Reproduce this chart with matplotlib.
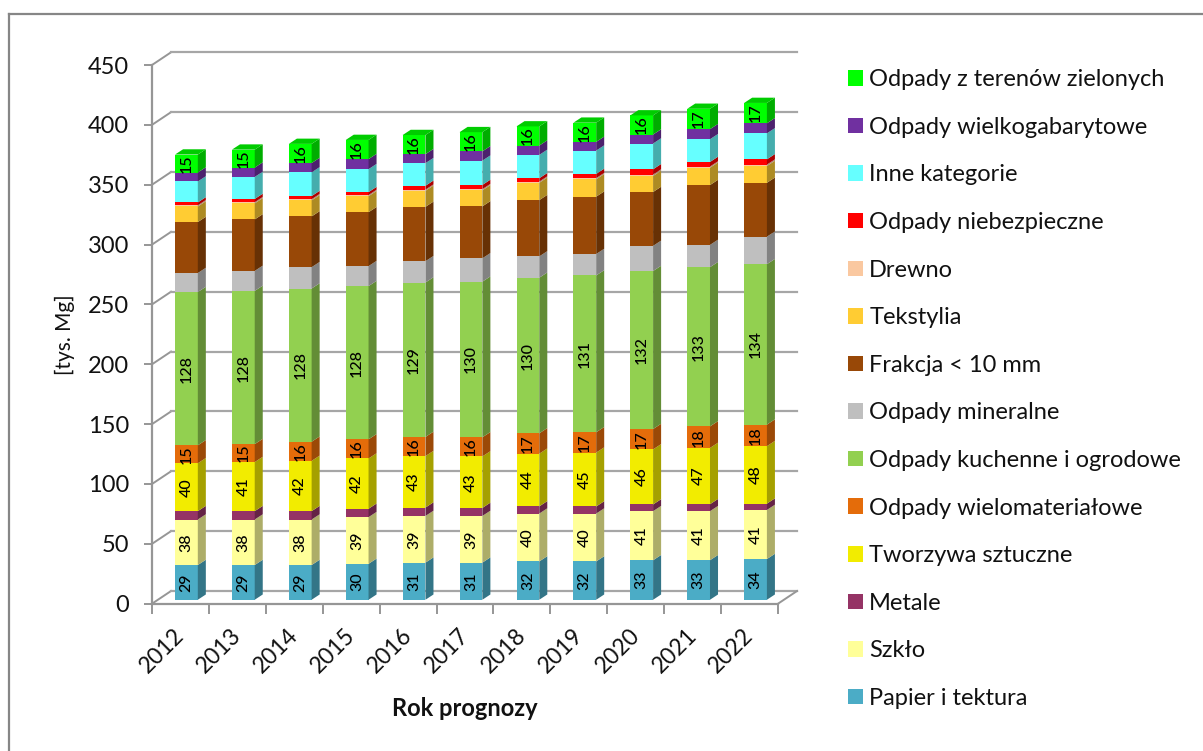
import matplotlib
matplotlib.use('Agg')
import matplotlib.pyplot as plt
from matplotlib.lines import Line2D
from matplotlib.patches import Patch
import numpy as np

plt.rcParams['font.family'] = ['Lato', 'DejaVu Sans']

years = [2012, 2013, 2014, 2015, 2016, 2017, 2018, 2019, 2020, 2021, 2022]

papier = [29, 29, 29, 30, 31, 31, 32, 32, 33, 33, 34]
szklo = [38, 38, 38, 39, 39, 39, 40, 40, 41, 41, 41]
metale = [7, 7, 7, 7, 7, 6.7, 6, 5.9, 5.6, 5.8, 5.3]
tworzywa = [40, 41, 42, 42, 43, 43, 44, 45, 46, 47, 48]
wielomat = [15, 15, 16, 16, 16, 16, 17, 17, 17, 18, 18]
kuchenne = [128, 128, 128, 128, 129, 130, 130, 131, 132, 133, 134]
mineralne = [15.9, 16.7, 17.8, 16.7, 17.8, 19.5, 17.8, 17.9, 21, 18.6, 23]
frakcja = [42.6, 43, 42.4, 45, 45.4, 43.4, 47, 47.9, 45, 50, 45]
tekstylia = [13, 13.4, 13.4, 13.4, 13.4, 13.4, 14.5, 14.5, 13.4, 14.5, 14]
drewno = [1, 1, 1, 1, 1, 1, 1, 1, 1.2, 1, 1.2]
niebezp = [2.4, 2.7, 2.6, 2.4, 3.2, 3.5, 2.8, 3.5, 4.4, 3.8, 4.4]
inne = [17.5, 18.4, 19.8, 19.2, 18.9, 20.3, 19.5, 19.5, 21.5, 19, 21.7]
wielkogab = [7.5, 7.8, 7.8, 8.4, 7.5, 7.8, 7.8, 7.3, 7.5, 8.4, 8.4]
zielone = [15, 15, 16, 16, 16, 16, 16, 16, 16, 17, 17]

series = [papier, szklo, metale, tworzywa, wielomat, kuchenne, mineralne,
          frakcja, tekstylia, drewno, niebezp, inne, wielkogab, zielone]
names = ['Papier i tektura', 'Szkło', 'Metale', 'Tworzywa sztuczne',
         'Odpady wielomateriałowe', 'Odpady kuchenne i ogrodowe',
         'Odpady mineralne', 'Frakcja < 10 mm', 'Tekstylia', 'Drewno',
         'Odpady niebezpieczne', 'Inne kategorie', 'Odpady wielkogabarytowe',
         'Odpady z terenów zielonych']
colors = ['#4BACC6', '#FFFF99', '#953365', '#F2EC00', '#E46C0A', '#92D050',
          '#BFBFBF', '#984807', '#FFCC33', '#FAC8A0', '#FF0000', '#66FFFF',
          '#7030A0', '#00FF00']
labelled = [0, 1, 3, 4, 5, 13]

gray = '#969696'
W, H = 1203, 751

fig = plt.figure(figsize=(W / 100, H / 100), dpi=100)
ax = fig.add_axes([152 / W, 1 - 603.7 / H, 626 / W, 538.7 / H])
ax.set_xlim(0, 11)
ax.set_ylim(0, 450)

# frame of the chart area
fig.add_artist(Line2D([9 / W, 9 / W], [0, 1 - 14 / H], color='#868686', lw=1.6))
fig.add_artist(Line2D([9 / W, 1], [1 - 14 / H, 1 - 14 / H], color='#868686', lw=1.6))

# fake 3d walls, offsets in data units
wall_dx, wall_dy = 0.334, 10.6
ticks = np.arange(0, 451, 50)
for v in ticks:
    ax.plot([0, wall_dx], [v, v + wall_dy], color=gray, lw=1.4, clip_on=False, zorder=1)
    ax.plot([wall_dx, 11 + wall_dx], [v + wall_dy, v + wall_dy], color='#A6A6A6', lw=1.6,
            clip_on=False, zorder=1)
ax.plot([11, 11 + wall_dx], [0, wall_dy], color=gray, lw=1.4, clip_on=False, zorder=1)

# bars
bar_w = 0.40
bar_dx, bar_dy = 0.141, 4.4
base = 3.3
x = np.arange(len(years)) + 0.605
bottom = np.full(len(years), base)


def darker(c, k):
    return tuple(np.array(matplotlib.colors.to_rgb(c)) * k)


for n, vals in enumerate(series):
    vals = np.array(vals, dtype=float)
    top = bottom + vals
    ax.bar(x, vals, bar_w, bottom=bottom, color=colors[n], zorder=3, lw=0)
    for i in range(len(years)):
        r = x[i] + bar_w / 2
        ax.fill([r, r + bar_dx, r + bar_dx, r],
                [bottom[i], bottom[i] + bar_dy, top[i] + bar_dy, top[i]],
                color=darker(colors[n], 0.68), lw=0, zorder=3, clip_on=False)
        if n == len(series) - 1:
            l = x[i] - bar_w / 2
            ax.fill([l, l + bar_dx, r + bar_dx, r],
                    [top[i], top[i] + bar_dy, top[i] + bar_dy, top[i]],
                    color=darker(colors[n], 0.8), lw=0, zorder=3)
        if n in labelled:
            ax.text(x[i], (bottom[i] + top[i]) / 2, str(int(round(vals[i]))), rotation=90,
                    ha='center', va='center', fontsize=11.5, fontweight='medium', color='black', zorder=4)
    bottom = top

# axes
for s in ['top', 'right']:
    ax.spines[s].set_visible(False)
for s in ['left', 'bottom']:
    ax.spines[s].set_color(gray)
    ax.spines[s].set_linewidth(1.6)
ax.set_yticks(ticks)
ax.tick_params(axis='y', length=6, width=1.4, color=gray, labelsize=17, pad=10.5, labelcolor='#111111')
ax.set_xticks(np.arange(0, 12))
ax.set_xticklabels([])
ax.tick_params(axis='x', which='major', length=7, width=1.4, color=gray)
ax.set_xticks(np.arange(len(years)) + 0.38, minor=True)
ax.set_xticklabels(years, minor=True, rotation=45, ha='right', va='top',
                   rotation_mode='anchor', fontsize=16.5, color='#111111')
ax.tick_params(axis='x', which='minor', length=0, pad=15)

ax.set_ylabel('[tys. Mg]', fontsize=15, labelpad=9, color='#111111')
fig.text(465 / W, 1 - 708 / H, 'Rok prognozy', fontsize=17, fontweight='bold',
         ha='center', va='center', color='#111111')

# legend, top entry first
handles = [Patch(facecolor=colors[n], label=names[n], lw=0) for n in range(len(names) - 1, -1, -1)]
fig.legend(handles=handles, loc='upper left', bbox_to_anchor=(827 / W, 1 - 48 / H), frameon=False,
           fontsize=17, handlelength=0.635, handleheight=0.635, handletextpad=0.25,
           labelspacing=1.126, labelcolor='#111111')

fig.savefig('out.png', dpi=100)
